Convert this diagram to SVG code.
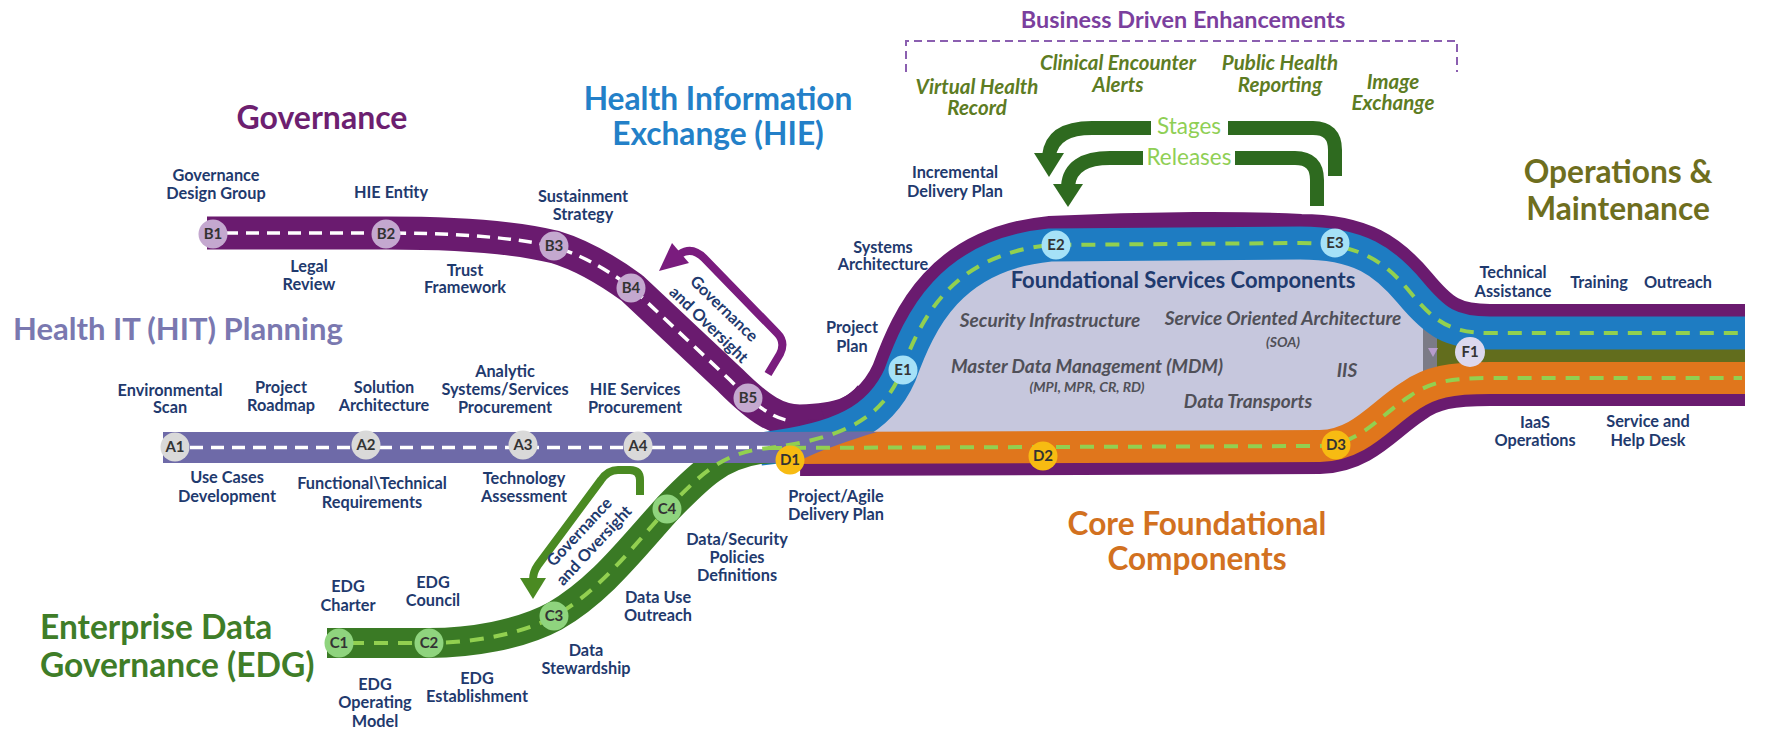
<svg xmlns="http://www.w3.org/2000/svg" width="1775" height="730" viewBox="0 0 1775 730">
<defs>
<style>
text { font-family: Lato, "Open Sans", "DejaVu Sans", sans-serif; }
.lbl { font-size: 16.3px; font-weight: 700; fill: #1f3a6e; text-anchor: middle; }
.ttl { font-weight: 700; }
.it { font-size: 20.5px; font-weight: 700; font-style: italic; fill: #5d7c23; text-anchor: middle; }
.fs { font-size: 19px; font-weight: 700; font-style: italic; fill: #505058; text-anchor: middle; }
.fss { font-size: 14px; font-weight: 700; font-style: italic; fill: #505058; text-anchor: middle; }
.ms { font-size: 15px; font-weight: 700; fill: #333; text-anchor: middle; }
.road { fill: none; stroke-linecap: butt; stroke-linejoin: round; }
.wd { fill: none; stroke: #ffffff; stroke-width: 3.5; stroke-dasharray: 13 8; }
.gd { fill: none; stroke: #92d050; stroke-width: 4; stroke-dasharray: 14 10; }
.arr { fill: none; stroke-linejoin: round; }
</style>
</defs>
<rect width="1775" height="730" fill="#ffffff"/>

<g id="connectors">
  <!-- purple governance road and envelope -->
  <path class="road" stroke="#6a1b6f" stroke-width="33" d="M 207 233 L 386 233 C 450 233 515 237 555 247 C 585 256 610 272 632 288 L 730 380 C 760 410 778 421 800 421 C 825 420 836 418 846 414 C 858 409 866 402 871 395"/>
  <path class="road" stroke="#6a1b6f" stroke-width="58" d="M 830 435 C 865.5 423 887 404 900 375 C 920 320 950 255 1050 245 C 1150 240 1250 240 1300 243 C 1360 243 1385 262 1410 292 C 1435 322 1450 333 1490 333 L 1745 333"/>
  <path class="road" stroke="#6a1b6f" stroke-width="56" d="M 800 448 L 1320 446 C 1360 445 1380 415 1410 396 C 1430 382 1450 378 1490 378 L 1745 378"/>
  <!-- foundational area -->
  <path fill="#c6c7dd" d="M 760 449 C 840 440 880 420 900 375 C 920 320 950 255 1050 245 L 1300 243 C 1360 243 1385 262 1410 292 C 1435 322 1450 333 1490 333 L 1490 378 C 1450 378 1430 382 1410 396 C 1380 415 1360 445 1320 446 L 790 448 Z"/>
  <rect x="1437" y="330" width="308" height="40" fill="#626d1d"/>
  <rect x="1423" y="320" width="14" height="60" fill="#7b7b86"/>
  <polygon points="1428,348 1438,348 1433,357" fill="#b79ccc"/>
  <!-- HIE road -->
  <path class="road" stroke="#1e7cc2" stroke-width="33" d="M 760 449 C 840 440 880 420 900 375 C 920 320 950 255 1050 245 L 1300 243 C 1360 243 1385 262 1410 292 C 1435 322 1450 333 1490 333 L 1745 333"/>
  <!-- core foundational road -->
  <path class="road" stroke="#e0761c" stroke-width="32" d="M 790 448 L 1320 446 C 1360 445 1380 415 1410 396 C 1430 382 1450 378 1490 378 L 1745 378"/>
  <!-- EDG road -->
  <path class="road" stroke="#3a7a25" stroke-width="30" d="M 327 643 L 429 643 C 470 643 520 635 555 616 C 600 590 630 550 668 508 C 700 475 720 455 760 449 L 790 447"/>
  <!-- HIT road -->
  <path fill="#6e6aa8" d="M 163 432 L 877 432 C 850 440 820 450 795 463 L 163 463 Z"/>
  <!-- dashes -->
  <line class="wd" x1="190" y1="447.5" x2="770" y2="447.5"/>
  <path class="wd" d="M 225 233 L 386 233 C 450 233 515 237 555 247 C 585 256 610 272 632 288 L 730 380 C 760 410 775 419 792 421"/>
  <path class="gd" d="M 350 643 L 429 643 C 470 643 520 635 555 616 C 600 590 630 550 668 508 C 700 475 720 455 760 449 C 840 440 880 420 900 375 C 920 320 950 255 1050 245 L 1300 243 C 1360 243 1385 262 1410 292 C 1435 322 1450 333 1490 333 L 1742 333"/>
  <path class="gd" d="M 768 448 L 1320 446 C 1360 445 1380 415 1410 396 C 1430 382 1450 378 1490 378 L 1742 378"/>
  <!-- governance and oversight arrows -->
  <path class="arr" stroke="#7a1c7e" stroke-width="8" d="M 768 374 L 780 354 Q 786 342 777 333 L 704 258 Q 692 246 680 254"/>
  <polygon points="659,271 689,263 672,243" fill="#7a1c7e"/>
  <path class="arr" stroke="#4a8a22" stroke-width="8" d="M 640 495 L 640 480 Q 640 470 630 470 L 618 470 Q 608 470 601 480 L 538 565 Q 533 572 533 580"/>
  <polygon points="520,578 546,578 533,599" fill="#4a8a22"/>
  <!-- stages / releases arrows -->
  <path class="arr" stroke="#2e6a1f" stroke-width="14" d="M 1335 176 L 1335 150 Q 1335 128 1313 128 L 1092 128 Q 1052 128 1049 156"/>
  <polygon points="1034,153 1064,153 1049,177" fill="#2e6a1f"/>
  <path class="arr" stroke="#2e6a1f" stroke-width="14" d="M 1317 206 L 1317 180 Q 1317 158 1295 158 L 1110 158 Q 1070 158 1068 186"/>
  <polygon points="1053,184 1083,184 1068,207" fill="#2e6a1f"/>
  <rect x="1151" y="119" width="77" height="18" fill="#ffffff"/>
  <rect x="1143" y="149" width="92" height="18" fill="#ffffff"/>
  <!-- business driven bracket -->
  <path fill="none" stroke="#8b5fb0" stroke-width="2" stroke-dasharray="8 5" d="M 906 72 L 906 41 L 1457 41 L 1457 72"/>
</g>

<!-- titles -->
<g id="title-governance"><text class="ttl" x="322" y="129" font-size="32" fill="#6d1f70" text-anchor="middle">Governance</text></g>
<g id="title-hit"><text class="ttl" x="13" y="340" font-size="31" fill="#7a78b0">Health IT (HIT) Planning</text></g>
<g id="title-hie"><text class="ttl" font-size="31.7" fill="#2380c8" text-anchor="middle"><tspan x="718" y="110">Health Information</tspan><tspan x="718" y="145">Exchange (HIE)</tspan></text></g>
<g id="title-bde"><text class="ttl" x="1183" y="28" font-size="23.4" fill="#7b3f9e" text-anchor="middle">Business Driven Enhancements</text></g>
<g id="title-edg"><text class="ttl" font-size="33.5" fill="#3f7d28"><tspan x="40" y="639">Enterprise Data</tspan><tspan x="40" y="677">Governance (EDG)</tspan></text></g>
<g id="title-core"><text class="ttl" font-size="31.6" fill="#d2711f" text-anchor="middle"><tspan x="1197" y="535">Core Foundational</tspan><tspan x="1197" y="570">Components</tspan></text></g>
<g id="title-om"><text class="ttl" font-size="31.7" fill="#6e6e1e" text-anchor="middle"><tspan x="1618" y="183">Operations &amp;</tspan><tspan x="1618" y="220">Maintenance</tspan></text></g>

<!-- business enhancements -->
<g id="bde-vhr"><text class="it"><tspan x="977" y="94">Virtual Health</tspan><tspan x="977" y="115">Record</tspan></text></g>
<g id="bde-cea"><text class="it"><tspan x="1118" y="70">Clinical Encounter</tspan><tspan x="1118" y="92">Alerts</tspan></text></g>
<g id="bde-phr"><text class="it"><tspan x="1280" y="70">Public Health</tspan><tspan x="1280" y="92">Reporting</tspan></text></g>
<g id="bde-ie"><text class="it"><tspan x="1393" y="89">Image</tspan><tspan x="1393" y="110">Exchange</tspan></text></g>
<g id="lbl-stages"><text x="1189" y="134" font-size="22.5" fill="#8fcf55" text-anchor="middle">Stages</text></g>
<g id="lbl-releases"><text x="1189" y="165" font-size="22.5" fill="#8fcf55" text-anchor="middle">Releases</text></g>

<!-- foundational services -->
<g id="fsc-title"><text class="ttl" x="1183" y="288" font-size="22" fill="#1f3a6e" text-anchor="middle">Foundational Services Components</text></g>
<g id="fsc-sec"><text class="fs" x="1050" y="327">Security Infrastructure</text></g>
<g id="fsc-soa"><text class="fs" x="1283" y="325">Service Oriented Architecture</text><text class="fss" x="1283" y="347">(SOA)</text></g>
<g id="fsc-mdm"><text class="fs" x="1087" y="373">Master Data Management (MDM)</text><text class="fss" x="1087" y="392">(MPI, MPR, CR, RD)</text></g>
<g id="fsc-iis"><text class="fs" x="1347" y="377">IIS</text></g>
<g id="fsc-dt"><text class="fs" x="1248" y="408">Data Transports</text></g>

<!-- labels -->
<g id="lbl-gdg"><text class="lbl"><tspan x="216" y="181">Governance</tspan><tspan x="216" y="199">Design Group</tspan></text></g>
<g id="lbl-hieent"><text class="lbl" x="391" y="198">HIE Entity</text></g>
<g id="lbl-sust"><text class="lbl"><tspan x="583" y="202">Sustainment</tspan><tspan x="583" y="220">Strategy</tspan></text></g>
<g id="lbl-legal"><text class="lbl"><tspan x="309" y="272">Legal</tspan><tspan x="309" y="290">Review</tspan></text></g>
<g id="lbl-trust"><text class="lbl"><tspan x="465" y="276">Trust</tspan><tspan x="465" y="293">Framework</tspan></text></g>
<g id="lbl-idp"><text class="lbl"><tspan x="955" y="178">Incremental</tspan><tspan x="955" y="197">Delivery Plan</tspan></text></g>
<g id="lbl-sysarch"><text class="lbl"><tspan x="883" y="253">Systems</tspan><tspan x="883" y="270">Architecture</tspan></text></g>
<g id="lbl-pp"><text class="lbl"><tspan x="852" y="333">Project</tspan><tspan x="852" y="352">Plan</tspan></text></g>
<g id="lbl-env"><text class="lbl"><tspan x="170" y="396">Environmental</tspan><tspan x="170" y="413">Scan</tspan></text></g>
<g id="lbl-prm"><text class="lbl"><tspan x="281" y="393">Project</tspan><tspan x="281" y="411">Roadmap</tspan></text></g>
<g id="lbl-sol"><text class="lbl"><tspan x="384" y="393">Solution</tspan><tspan x="384" y="411">Architecture</tspan></text></g>
<g id="lbl-ana"><text class="lbl"><tspan x="505" y="377">Analytic</tspan><tspan x="505" y="395">Systems/Services</tspan><tspan x="505" y="413">Procurement</tspan></text></g>
<g id="lbl-hiesp"><text class="lbl"><tspan x="635" y="395">HIE Services</tspan><tspan x="635" y="413">Procurement</tspan></text></g>
<g id="lbl-ucd"><text class="lbl"><tspan x="227" y="483">Use Cases</tspan><tspan x="227" y="502">Development</tspan></text></g>
<g id="lbl-ftr"><text class="lbl"><tspan x="372" y="489">Functional\Technical</tspan><tspan x="372" y="508">Requirements</tspan></text></g>
<g id="lbl-ta"><text class="lbl"><tspan x="524" y="484">Technology</tspan><tspan x="524" y="502">Assessment</tspan></text></g>
<g id="lbl-padp"><text class="lbl"><tspan x="836" y="502">Project/Agile</tspan><tspan x="836" y="520">Delivery Plan</tspan></text></g>
<g id="lbl-dsp"><text class="lbl"><tspan x="737" y="545">Data/Security</tspan><tspan x="737" y="563">Policies</tspan><tspan x="737" y="581">Definitions</tspan></text></g>
<g id="lbl-edgch"><text class="lbl"><tspan x="348" y="592">EDG</tspan><tspan x="348" y="611">Charter</tspan></text></g>
<g id="lbl-edgco"><text class="lbl"><tspan x="433" y="588">EDG</tspan><tspan x="433" y="606">Council</tspan></text></g>
<g id="lbl-duo"><text class="lbl"><tspan x="658" y="603">Data Use</tspan><tspan x="658" y="621">Outreach</tspan></text></g>
<g id="lbl-ds"><text class="lbl"><tspan x="586" y="656">Data</tspan><tspan x="586" y="674">Stewardship</tspan></text></g>
<g id="lbl-edgom"><text class="lbl"><tspan x="375" y="690">EDG</tspan><tspan x="375" y="708">Operating</tspan><tspan x="375" y="727">Model</tspan></text></g>
<g id="lbl-edges"><text class="lbl"><tspan x="477" y="684">EDG</tspan><tspan x="477" y="702">Establishment</tspan></text></g>
<g id="lbl-tas"><text class="lbl"><tspan x="1513" y="278">Technical</tspan><tspan x="1513" y="297">Assistance</tspan></text></g>
<g id="lbl-train"><text class="lbl" x="1599" y="288">Training</text></g>
<g id="lbl-outr"><text class="lbl" x="1678" y="288">Outreach</text></g>
<g id="lbl-iaas"><text class="lbl"><tspan x="1535" y="428">IaaS</tspan><tspan x="1535" y="446">Operations</tspan></text></g>
<g id="lbl-shd"><text class="lbl"><tspan x="1648" y="427">Service and</tspan><tspan x="1648" y="446">Help Desk</tspan></text></g>
<g id="lbl-go1"><text class="lbl" transform="translate(716 317) rotate(44)"><tspan x="0" y="-6">Governance</tspan><tspan x="0" y="16">and Oversight</tspan></text></g>
<g id="lbl-go2"><text class="lbl" transform="translate(587 539) rotate(-47)"><tspan x="0" y="-5">Governance</tspan><tspan x="0" y="15">and Oversight</tspan></text></g>

<!-- milestones -->
<g id="node-A1"><circle cx="175" cy="447" r="14.5" fill="#d9d9d9"/><text class="ms" x="175" y="452">A1</text></g>
<g id="node-A2"><circle cx="366" cy="445" r="14.5" fill="#d9d9d9"/><text class="ms" x="366" y="450">A2</text></g>
<g id="node-A3"><circle cx="523" cy="445" r="14.5" fill="#d9d9d9"/><text class="ms" x="523" y="450">A3</text></g>
<g id="node-A4"><circle cx="638" cy="446" r="14.5" fill="#d9d9d9"/><text class="ms" x="638" y="451">A4</text></g>
<g id="node-B1"><circle cx="213" cy="234" r="14.5" fill="#c4a8cf"/><text class="ms" x="213" y="239">B1</text></g>
<g id="node-B2"><circle cx="386" cy="234" r="14.5" fill="#c4a8cf"/><text class="ms" x="386" y="239">B2</text></g>
<g id="node-B3"><circle cx="554" cy="246" r="14.5" fill="#c4a8cf"/><text class="ms" x="554" y="251">B3</text></g>
<g id="node-B4"><circle cx="631" cy="288" r="14.5" fill="#c4a8cf"/><text class="ms" x="631" y="293">B4</text></g>
<g id="node-B5"><circle cx="748" cy="398" r="14.5" fill="#c4a8cf"/><text class="ms" x="748" y="403">B5</text></g>
<g id="node-C1"><circle cx="339" cy="643" r="14.5" fill="#8fd47e"/><text class="ms" x="339" y="648">C1</text></g>
<g id="node-C2"><circle cx="429" cy="643" r="14.5" fill="#8fd47e"/><text class="ms" x="429" y="648">C2</text></g>
<g id="node-C3"><circle cx="554" cy="616" r="14.5" fill="#8fd47e"/><text class="ms" x="554" y="621">C3</text></g>
<g id="node-C4"><circle cx="667" cy="509" r="14.5" fill="#8fd47e"/><text class="ms" x="667" y="514">C4</text></g>
<g id="node-D1"><circle cx="790" cy="460" r="14.5" fill="#f7bb12"/><text class="ms" x="790" y="465">D1</text></g>
<g id="node-D2"><circle cx="1043" cy="456" r="14.5" fill="#f7bb12"/><text class="ms" x="1043" y="461">D2</text></g>
<g id="node-D3"><circle cx="1336" cy="445" r="14.5" fill="#f7bb12"/><text class="ms" x="1336" y="450">D3</text></g>
<g id="node-E1"><circle cx="903" cy="370" r="14.5" fill="#a5e1f7"/><text class="ms" x="903" y="375" fill="#2e6b3a">E1</text></g>
<g id="node-E2"><circle cx="1056" cy="245" r="14.5" fill="#a5e1f7"/><text class="ms" x="1056" y="250" fill="#2e6b3a">E2</text></g>
<g id="node-E3"><circle cx="1335" cy="243" r="14.5" fill="#a5e1f7"/><text class="ms" x="1335" y="248" fill="#2e6b3a">E3</text></g>
<g id="node-F1"><circle cx="1470" cy="352" r="15" fill="#dcd8ee"/><text class="ms" x="1470" y="357">F1</text></g>
</svg>
